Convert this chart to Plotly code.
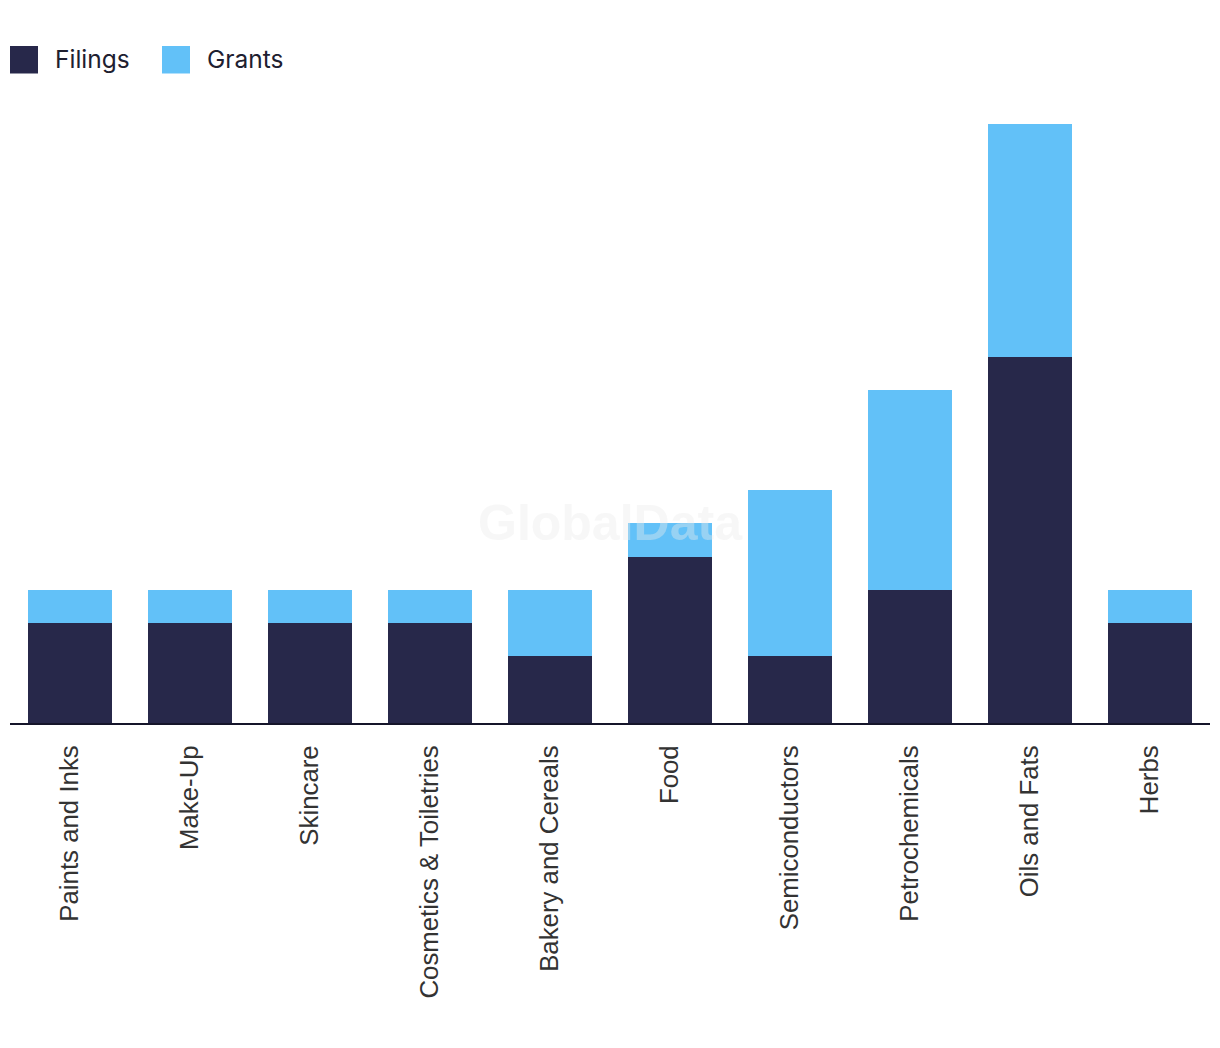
import plotly.graph_objects as go

categories = ["Paints and Inks", "Make-Up", "Skincare", "Cosmetics & Toiletries",
              "Bakery and Cereals", "Food", "Semiconductors", "Petrochemicals",
              "Oils and Fats", "Herbs"]
filings = [3, 3, 3, 3, 2, 5, 2, 4, 11, 3]
grants = [1, 1, 1, 1, 2, 1, 5, 6, 7, 1]
series_names = ["Filings", "Grants"]
colors = ["#27284a", "#62c1f8"]

# page has an 8px body margin; figure coords are offset by 8px
OFF = 8
W, H = 1212, 1040
ML, MR, MT, MB = 2, 10, 116, 325
plot_w = W - ML - MR
plot_h = H - MT - MB

fig = go.Figure()
for name, vals, c in zip(series_names, [filings, grants], colors):
    fig.add_trace(go.Bar(x=categories, y=vals, name=name, marker_color=c,
                         marker_line_width=0, showlegend=False))

def px_x(p):
    return (p - OFF - ML) / plot_w

def px_y(p):
    return (H - MB - (p - OFF)) / plot_h

# custom legend (large squares)
leg_x = [10, 162]
for i, (name, c) in enumerate(zip(series_names, colors)):
    x0 = leg_x[i]
    fig.add_shape(type="rect", xref="paper", yref="paper",
                  x0=px_x(x0), x1=px_x(x0 + 28), y0=px_y(73.5), y1=px_y(46),
                  fillcolor=c, line_width=0)
    fig.add_annotation(text=name, xref="paper", yref="paper",
                       x=px_x(x0 + 43), y=px_y(59), xanchor="left", yanchor="middle",
                       showarrow=False,
                       font=dict(family="Inter, Liberation Sans, sans-serif", size=24.5,
                                 color="#1e2030"))

# watermark
fig.add_annotation(text="<b>GlobalData</b>", xref="paper", yref="paper",
                   x=0.5, y=px_y(523), xanchor="center", yanchor="middle",
                   showarrow=False,
                   font=dict(family="Liberation Sans, Arial, sans-serif", size=50,
                             color="rgba(235,235,235,0.4)"))

fig.update_layout(
    barmode="stack",
    bargap=0.3,
    width=W, height=H,
    margin=dict(l=ML, r=MR, t=MT, b=MB, pad=0),
    paper_bgcolor="white",
    plot_bgcolor="white",
    showlegend=False,
    xaxis=dict(
        type="category",
        showline=True, linecolor="#15152a", linewidth=2,
        showgrid=False, zeroline=False,
        ticks="outside", ticklen=10, tickcolor="rgba(0,0,0,0)",
        tickangle=-90,
        tickfont=dict(family="Liberation Sans, Arial, sans-serif", size=25.8, color="#333333"),
    ),
    yaxis=dict(
        range=[0, 18],
        visible=False,
        showgrid=False, zeroline=False,
    ),
)

fig.write_html("out.html")
